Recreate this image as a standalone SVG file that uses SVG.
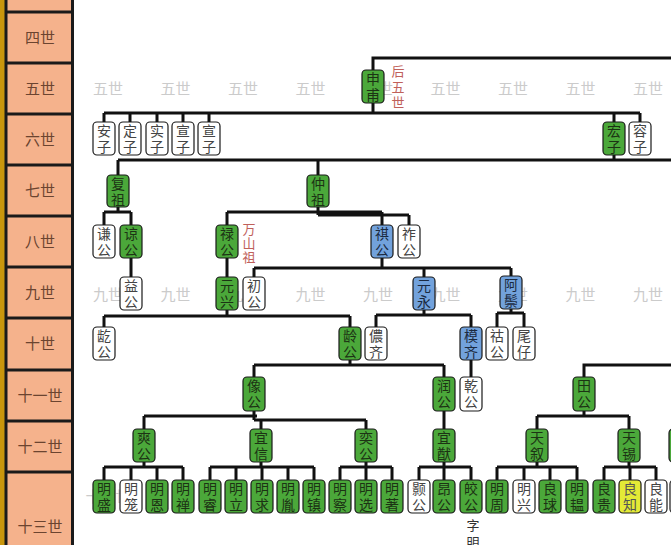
<svg xmlns="http://www.w3.org/2000/svg" width="671" height="545" viewBox="0 0 671 545">
<style>
text{font-family:"Noto Sans CJK SC","Noto Sans CJK JP",sans-serif;text-anchor:middle}
.col text{font-size:15px;fill:#6b4430}
.wm{font-size:15px;fill:#cbcbcb}
.n rect{stroke:#1a1a1a;stroke-width:1.2}
.n text{font-size:14px;writing-mode:vertical-rl;letter-spacing:2px}
.g rect{fill:#4ba83a}.g text{fill:#1c3314}
.b rect{fill:#72a2dc}.b text{fill:#1b2a40}
.w rect{fill:#fff}.w text{fill:#444}
.y rect{fill:#e4ea36}.y text{fill:#555}
.red{font-size:13px;fill:#c0605a;writing-mode:vertical-rl}
.note{font-size:13px;fill:#333;writing-mode:vertical-rl;letter-spacing:4px}
#connectors path{fill:none;stroke:#111;stroke-width:3}
</style>
<rect width="671" height="545" fill="#fff"/>
<g id="generation-column" class="col">
<rect x="0" y="0" width="5" height="545" fill="#c9960c"/>
<rect x="6" y="-5" width="67" height="560" fill="#f5b28c"/>
<path d="M6,0V545M72.5,0V545M6,12H74M6,63H74M6,114H74M6,165H74M6,216H74M6,267H74M6,318H74M6,370H74M6,421H74M6,472H74" stroke="#1a1a1a" stroke-width="3" fill="none"/>
<text x="40" y="43">四世</text>
<text x="40" y="94">五世</text>
<text x="40" y="145">六世</text>
<text x="40" y="196">七世</text>
<text x="40" y="247">八世</text>
<text x="40" y="298">九世</text>
<text x="40" y="349">十世</text>
<text x="40" y="401">十一世</text>
<text x="40" y="452">十二世</text>
<text x="40" y="532">十三世</text>
</g>
<g id="watermarks" class="wm">
<text x="108" y="94">五世</text><text x="175.5" y="94">五世</text><text x="243" y="94">五世</text><text x="310.5" y="94">五世</text><text x="378" y="94">五世</text><text x="445.5" y="94">五世</text><text x="513" y="94">五世</text><text x="580.5" y="94">五世</text><text x="648" y="94">五世</text>
<text x="108" y="300">九世</text><text x="175.5" y="300">九世</text><text x="243" y="300">九世</text><text x="310.5" y="300">九世</text><text x="378" y="300">九世</text><text x="445.5" y="300">九世</text><text x="513" y="300">九世</text><text x="580.5" y="300">九世</text><text x="648" y="300">九世</text>
<text x="108" y="502">十三世</text>
</g>
<g id="connectors">
<path d="M373,70V58H671"/>
<path d="M373,103V113M104,113H640M104,113V122M130,113V122M157,113V122M183,113V122M209,113V122M614,113V122M640,113V122"/>
<path d="M614,155V160M118,160H671M118,160V175M318,160V175"/>
<path d="M118,207V212M104,212H131M104,212V225M131,212V225"/>
<path d="M318,206V215M227,212H382M318,215H409M227,212V225M382,212V225M409,215V225"/>
<path d="M131,258V277M227,258V277"/>
<path d="M382,258V268M254,268H511M254,268V277M424,268V277M511,268V277"/>
<path d="M227,310V316M104,316H350M104,316V327M350,316V327"/>
<path d="M424,310V315M376,315H471M376,315V327M471,315V327"/>
<path d="M511,309V313M497,313H524M497,313V327M524,313V327"/>
<path d="M350,360V365M254,365H444M254,365V377M444,365V377M471,360V377"/>
<path d="M584,377V365H671"/>
<path d="M254,411V420M144,416H257M254,420H366M144,416V429M261,420V429M366,420V429"/>
<path d="M444,411V429"/>
<path d="M584,411V416M537,416H629M537,416V429M629,416V429"/>
<path d="M144,462V467M104,467H183M104,467V480M131,467V480M157,467V480M183,467V480"/>
<path d="M261,462V467M210,467H314M210,467V480M236,467V480M262,467V480M288,467V480M314,467V480"/>
<path d="M366,462V467M340,467H392M340,467V480M366,467V480M392,467V480"/>
<path d="M444,462V467M419,467H471M419,467V480M444,467V480M471,467V480"/>
<path d="M537,462V467M497,467H577M497,467V480M524,467V480M550,467V480M577,467V480"/>
<path d="M629,462V467M604,467H656M604,467V480M630,467V480M656,467V480"/>
</g>
<g id="n-shenfu" class="n g"><rect x="362" y="70" width="22" height="33" rx="4"/><text x="373" y="88">申甫</text></g>
<text class="red" x="398" y="88" style="letter-spacing:2.5px">后五世</text>
<g id="n-anzi" class="n w"><rect x="93" y="122" width="22" height="33" rx="4"/><text x="104" y="140">安子</text></g>
<g id="n-dingzi" class="n w"><rect x="119" y="122" width="22" height="33" rx="4"/><text x="130" y="140">定子</text></g>
<g id="n-shizi" class="n w"><rect x="146" y="122" width="22" height="33" rx="4"/><text x="157" y="140">实子</text></g>
<g id="n-xuanzi1" class="n w"><rect x="172" y="122" width="22" height="33" rx="4"/><text x="183" y="140">宣子</text></g>
<g id="n-xuanzi2" class="n w"><rect x="198" y="122" width="22" height="33" rx="4"/><text x="209" y="140">宣子</text></g>
<g id="n-hongzi" class="n g"><rect x="603" y="122" width="22" height="33" rx="4"/><text x="614" y="140">宏子</text></g>
<g id="n-rongzi" class="n w"><rect x="629" y="122" width="22" height="33" rx="4"/><text x="640" y="140">容子</text></g>
<g id="n-fuzu" class="n g"><rect x="107" y="175" width="22" height="32" rx="4"/><text x="118" y="192.5">复祖</text></g>
<g id="n-zhongzu" class="n g"><rect x="307" y="175" width="22" height="32" rx="4"/><text x="318" y="192.5">仲祖</text></g>
<g id="n-qiangong" class="n w"><rect x="93" y="225" width="22" height="33" rx="4"/><text x="104" y="243">谦公</text></g>
<g id="n-lianggong" class="n g"><rect x="120" y="225" width="22" height="33" rx="4"/><text x="131" y="243">谅公</text></g>
<g id="n-lugong" class="n g"><rect x="216" y="225" width="22" height="33" rx="4"/><text x="227" y="243">禄公</text></g>
<text class="red" x="249" y="244" style="letter-spacing:1px">万山祖</text>
<g id="n-qigong" class="n b"><rect x="371" y="225" width="22" height="33" rx="4"/><text x="382" y="243">祺公</text></g>
<g id="n-zuogong" class="n w"><rect x="398" y="225" width="22" height="33" rx="4"/><text x="409" y="243">祚公</text></g>
<g id="n-yigong" class="n w"><rect x="120" y="277" width="22" height="33" rx="4"/><text x="131" y="295">益公</text></g>
<g id="n-yuanxing" class="n g"><rect x="216" y="277" width="22" height="33" rx="4"/><text x="227" y="295">元兴</text></g>
<g id="n-chugong" class="n w"><rect x="243" y="277" width="22" height="33" rx="4"/><text x="254" y="295">初公</text></g>
<g id="n-yuanyong" class="n b"><rect x="413" y="277" width="22" height="33" rx="4"/><text x="424" y="295">元永</text></g>
<g id="n-azong" class="n b"><rect x="500" y="276" width="22" height="33" rx="4"/><text x="511" y="294">阿鬃</text></g>
<g id="n-hegong" class="n w"><rect x="93" y="327" width="22" height="33" rx="4"/><text x="104" y="345">龁公</text></g>
<g id="n-linggong" class="n g"><rect x="339" y="327" width="22" height="33" rx="4"/><text x="350" y="345">龄公</text></g>
<g id="n-nongqi" class="n w"><rect x="365" y="327" width="22" height="33" rx="4"/><text x="376" y="345">儂齐</text></g>
<g id="n-moqi" class="n b"><rect x="460" y="327" width="22" height="33" rx="4"/><text x="471" y="345">模齐</text></g>
<g id="n-hugong" class="n w"><rect x="486" y="327" width="22" height="33" rx="4"/><text x="497" y="345">祜公</text></g>
<g id="n-weizai" class="n w"><rect x="513" y="327" width="22" height="33" rx="4"/><text x="524" y="345">尾仔</text></g>
<g id="n-xianggong" class="n g"><rect x="243" y="377" width="22" height="34" rx="4"/><text x="254" y="395">像公</text></g>
<g id="n-rungong" class="n g"><rect x="433" y="377" width="22" height="34" rx="4"/><text x="444" y="395">润公</text></g>
<g id="n-qiangong2" class="n w"><rect x="460" y="377" width="22" height="34" rx="4"/><text x="471" y="395">乾公</text></g>
<g id="n-tiangong" class="n g"><rect x="573" y="377" width="22" height="34" rx="4"/><text x="584" y="395">田公</text></g>
<g id="n-shuanggong" class="n g"><rect x="133" y="429" width="22" height="33" rx="4"/><text x="144" y="447">爽公</text></g>
<g id="n-yixin" class="n g"><rect x="250" y="429" width="22" height="33" rx="4"/><text x="261" y="447">宜信</text></g>
<g id="n-yigong2" class="n g"><rect x="355" y="429" width="22" height="33" rx="4"/><text x="366" y="447">奕公</text></g>
<g id="n-yiyou" class="n g"><rect x="433" y="429" width="22" height="33" rx="4"/><text x="444" y="447">宜猷</text></g>
<g id="n-tianxu" class="n g"><rect x="526" y="429" width="22" height="33" rx="4"/><text x="537" y="447">天叙</text></g>
<g id="n-tianxi" class="n g"><rect x="618" y="429" width="22" height="33" rx="4"/><text x="629" y="447">天锡</text></g>
<g id="n-edge12" class="n g"><rect x="669" y="429" width="22" height="33" rx="4"/></g>
<g id="n-mingsheng" class="n g"><rect x="93" y="480" width="22" height="33" rx="4"/><text x="104" y="498">明盛</text></g>
<g id="n-minglong" class="n w"><rect x="120" y="480" width="22" height="33" rx="4"/><text x="131" y="498">明笼</text></g>
<g id="n-mingen" class="n g"><rect x="146" y="480" width="22" height="33" rx="4"/><text x="157" y="498">明恩</text></g>
<g id="n-mingchan" class="n g"><rect x="172" y="480" width="22" height="33" rx="4"/><text x="183" y="498">明禅</text></g>
<g id="n-mingrui" class="n g"><rect x="199" y="480" width="22" height="33" rx="4"/><text x="210" y="498">明睿</text></g>
<g id="n-mingli" class="n g"><rect x="225" y="480" width="22" height="33" rx="4"/><text x="236" y="498">明立</text></g>
<g id="n-mingqiu" class="n g"><rect x="251" y="480" width="22" height="33" rx="4"/><text x="262" y="498">明求</text></g>
<g id="n-mingyin" class="n g"><rect x="277" y="480" width="22" height="33" rx="4"/><text x="288" y="498">明胤</text></g>
<g id="n-mingzhen" class="n g"><rect x="303" y="480" width="22" height="33" rx="4"/><text x="314" y="498">明镇</text></g>
<g id="n-mingcha" class="n g"><rect x="329" y="480" width="22" height="33" rx="4"/><text x="340" y="498">明察</text></g>
<g id="n-mingxuan" class="n g"><rect x="355" y="480" width="22" height="33" rx="4"/><text x="366" y="498">明选</text></g>
<g id="n-mingzhu" class="n g"><rect x="381" y="480" width="22" height="33" rx="4"/><text x="392" y="498">明著</text></g>
<g id="n-haogong" class="n w"><rect x="408" y="480" width="22" height="33" rx="4"/><text x="419" y="498">颢公</text></g>
<g id="n-anggong" class="n g"><rect x="433" y="480" width="22" height="33" rx="4"/><text x="444" y="498">昂公</text></g>
<g id="n-jiaogong" class="n g"><rect x="460" y="480" width="22" height="33" rx="4"/><text x="471" y="498">皎公</text></g>
<text class="note" x="473" y="536">字明</text>
<g id="n-mingzhou" class="n g"><rect x="486" y="480" width="22" height="33" rx="4"/><text x="497" y="498">明周</text></g>
<g id="n-mingxing" class="n w"><rect x="513" y="480" width="22" height="33" rx="4"/><text x="524" y="498">明兴</text></g>
<g id="n-liangqiu" class="n g"><rect x="539" y="480" width="22" height="33" rx="4"/><text x="550" y="498">良球</text></g>
<g id="n-mingyun" class="n g"><rect x="566" y="480" width="22" height="33" rx="4"/><text x="577" y="498">明韫</text></g>
<g id="n-lianggui" class="n g"><rect x="593" y="480" width="22" height="33" rx="4"/><text x="604" y="498">良贵</text></g>
<g id="n-liangzhi" class="n y"><rect x="619" y="480" width="22" height="33" rx="4"/><text x="630" y="498">良知</text></g>
<g id="n-liangneng" class="n w"><rect x="645" y="480" width="22" height="33" rx="4"/><text x="656" y="498">良能</text></g>
<g id="n-edge13" class="n w"><rect x="670" y="480" width="22" height="33" rx="4"/></g>
</svg>
